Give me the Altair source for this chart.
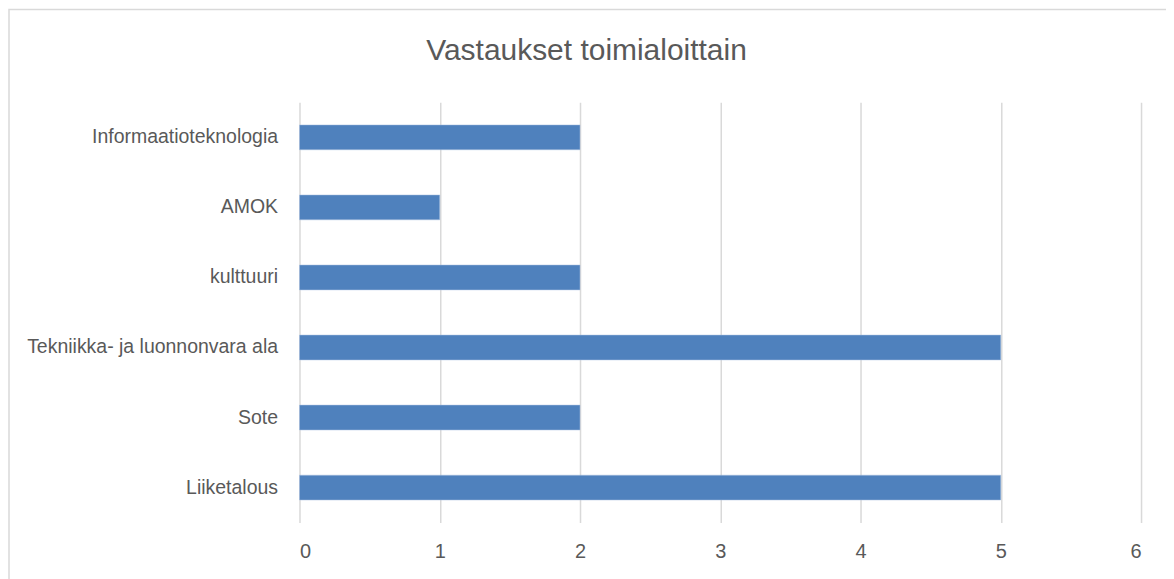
import altair as alt
import pandas as pd

categories = ["Informaatioteknologia", "AMOK", "kulttuuri",
              "Tekniikka- ja luonnonvara ala", "Sote", "Liiketalous"]
values = [2, 1, 2, 5, 2, 5]
x_ticks = [0, 1, 2, 3, 4, 5, 6]

df = pd.DataFrame({"category": categories, "value": values})
FONT = "Liberation Sans"

border = alt.Chart(pd.DataFrame({"a": [0]})).mark_rect(
    fillOpacity=0, stroke="#d9d9d9", strokeWidth=1.5
).encode(
    x=alt.value(-291), x2=alt.value(900),
    y=alt.value(-93), y2=alt.value(600),
)

bars = alt.Chart(df).mark_bar(color="#4f81bd", stroke="#a9c0e0", strokeWidth=0.5).encode(
    x=alt.X("value:Q", scale=alt.Scale(domain=[0, 6], nice=False),
            axis=alt.Axis(values=x_ticks, format="d", title=None, domain=False, ticks=False,
                          grid=True, gridColor="#d9d9d9", gridWidth=1.5,
                          labelFont=FONT, labelFontSize=20, labelColor="#595959",
                          labelPadding=19)),
    y=alt.Y("category:N", sort=categories,
            scale=alt.Scale(paddingInner=0.645, paddingOuter=0.3225),
            axis=alt.Axis(title=None, domain=False, ticks=False, grid=False,
                          labelFont=FONT, labelFontSize=19.5, labelColor="#595959",
                          labelPadding=22, labelLimit=400)),
)

chart = alt.layer(border, bars).properties(
    width=843, height=421,
    title=alt.TitleParams("Vastaukset toimialoittain", font=FONT, fontSize=30,
                          fontWeight="normal", color="#595959", anchor="middle",
                          baseline="alphabetic", offset=-81, dx=-134),
    autosize=alt.AutoSizeParams(type="none"),
    padding={"left": 292, "top": 94, "right": 25, "bottom": 56},
).configure(background="white", view=alt.ViewConfig(stroke=None))

chart.save("out.html", embed_options={"renderer": "svg", "actions": False})
